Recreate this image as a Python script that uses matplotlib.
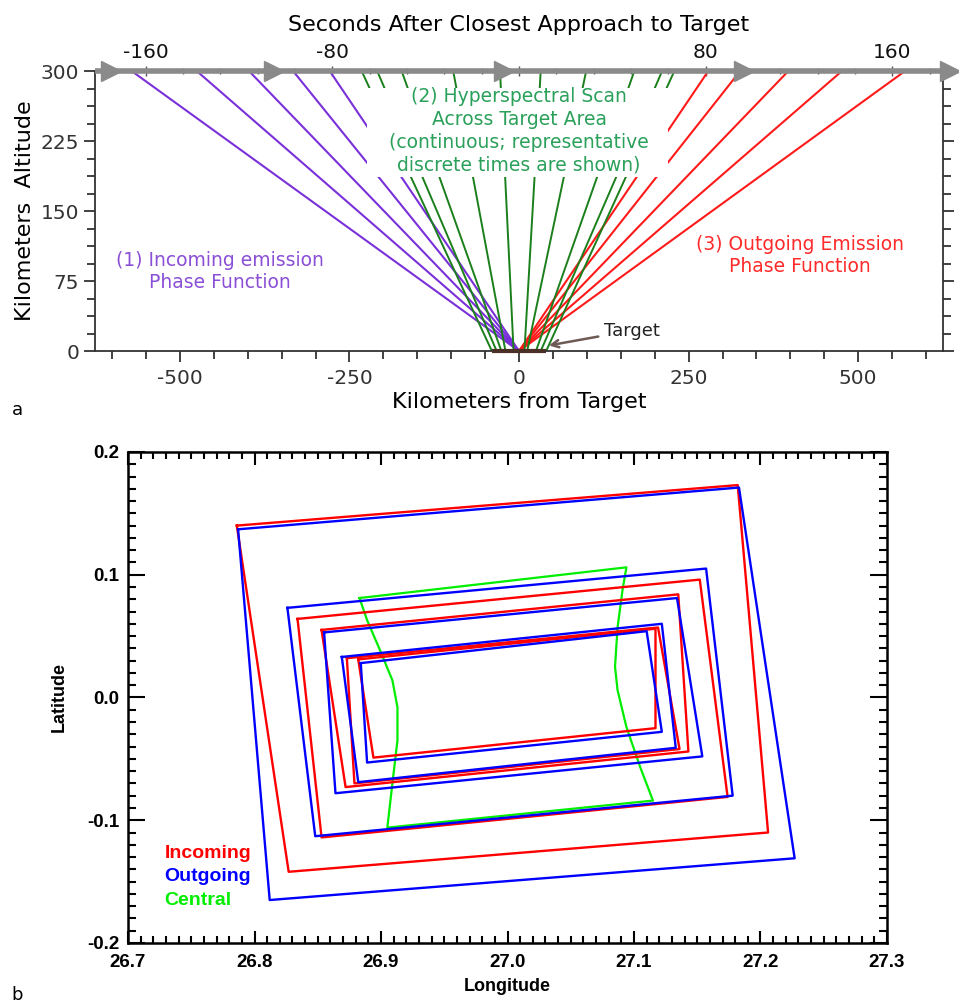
import numpy as np
import matplotlib.pyplot as plt
from matplotlib.patches import Rectangle
from matplotlib.ticker import MultipleLocator

plt.rcParams['axes.unicode_minus'] = False

# ---- panel a : viewing geometry (km) ----
ALT = 300
incoming_top_km = [-571, -475, -398, -333, -279]
outgoing_top_km = [279, 326, 397, 476, 569]
scan_top_km = [-232, -209, -173, -97, -28, 32, 99, 170, 211, 229]
scan_ground_km = [-40, -33, -26, -20, -8, 8, 12, 25, 32, 40]
target_km = [-40, 40]
arrow_head_km = [-601, -361, -22, 331, 636]
km_per_sec = 3.44
sec_ticks = [-160, -80, 0, 80, 160]
sec_labels = ['-160', '-80', '', '80', '160']
km_ticks = [-500, -250, 0, 250, 500]
alt_ticks = [0, 75, 150, 225, 300]

# ---- panel b : footprints (lon, lat corners TL, TR, BR, BL) ----
incoming_quads = [
    [(26.786, 0.140), (27.182, 0.173), (27.206, -0.110), (26.827, -0.142)],
    [(26.834, 0.064), (27.152, 0.096), (27.174, -0.081), (26.853, -0.114)],
    [(26.853, 0.055), (27.135, 0.084), (27.143, -0.044), (26.872, -0.073)],
    [(26.873, 0.032), (27.119, 0.057), (27.136, -0.042), (26.879, -0.070)],
    [(26.882, 0.031), (27.117, 0.056), (27.117, -0.025), (26.894, -0.049)],
]
outgoing_quads = [
    [(26.787, 0.137), (27.183, 0.171), (27.227, -0.131), (26.812, -0.165)],
    [(26.826, 0.073), (27.157, 0.105), (27.178, -0.080), (26.848, -0.113)],
    [(26.855, 0.053), (27.134, 0.081), (27.154, -0.048), (26.864, -0.078)],
    [(26.869, 0.033), (27.122, 0.060), (27.133, -0.041), (26.882, -0.069)],
    [(26.884, 0.028), (27.110, 0.054), (27.122, -0.028), (26.889, -0.053)],
]
central_left = [(26.883, 0.081), (26.889, 0.063), (26.899, 0.039), (26.909, 0.014),
                (26.913, -0.008), (26.913, -0.035), (26.909, -0.070), (26.905, -0.106)]
central_right = [(27.094, 0.106), (27.091, 0.088), (27.087, 0.057), (27.085, 0.025),
                 (27.087, 0.006), (27.094, -0.024), (27.105, -0.057), (27.115, -0.084)]

purple = '#7a30d9'
purple_txt = '#8a4fd6'
red_a = '#ff1a1a'
green_line = '#1b7f1b'
green_txt = '#2aa05a'
arrow_gray = '#8a8a8a'

fig = plt.figure(figsize=(9.59, 10.05), dpi=100)

# ================= panel a =================
ax = fig.add_axes([0.0991, 0.6507, 0.8842, 0.2786])
ax.set_xlim(-625, 625)
ax.set_ylim(0, ALT)

for xt in incoming_top_km:
    ax.plot([0, xt], [0, ALT], color=purple, lw=1.5, zorder=2)
for xt in outgoing_top_km:
    ax.plot([0, xt], [0, ALT], color=red_a, lw=1.5, zorder=2)
for xb, xt in zip(scan_ground_km, scan_top_km):
    ax.plot([xb, xt], [0, ALT], color=green_line, lw=1.4, zorder=2)

# white box behind the scan label
scan_box = Rectangle((-224, 186), 444, 96, facecolor='white', edgecolor='none', zorder=3)
ax.add_patch(scan_box)
ax.text(0, 236, '(2) Hyperspectral Scan\nAcross Target Area\n(continuous; representative\ndiscrete times are shown)',
        ha='center', va='center', color=green_txt, fontsize=13.5, linespacing=1.25, zorder=4)
ax.text(-441, 85, '(1) Incoming emission\nPhase Function', ha='center', va='center',
        color=purple_txt, fontsize=13.5, linespacing=1.2)
ax.text(414, 102, '(3) Outgoing Emission\nPhase Function', ha='center', va='center',
        color='#ff2a2a', fontsize=13.5, linespacing=1.2)

# target on the ground
ax.plot(target_km, [0, 0], color='#4b3028', lw=3, solid_capstyle='butt', clip_on=False, zorder=5)
ax.annotate('Target', xy=(44, 6), xytext=(125, 22), fontsize=13, color='#222222',
            ha='left', va='center',
            arrowprops=dict(arrowstyle='->', color='#6e5a55', lw=1.8, shrinkA=2, shrinkB=0))

# spacecraft track arrow along the top
ax.plot([-625, 640], [ALT, ALT], color=arrow_gray, lw=4, clip_on=False, zorder=6,
        solid_capstyle='butt')
ax.plot(arrow_head_km, [ALT] * len(arrow_head_km), linestyle='none', marker='>',
        markersize=15, color=arrow_gray, clip_on=False, zorder=7)

ax.spines['top'].set_visible(False)
for s in ['left', 'right', 'bottom']:
    ax.spines[s].set_color('#333333')
    ax.spines[s].set_linewidth(1.3)
ax.set_xticks(km_ticks)
ax.set_yticks(alt_ticks)
ax.xaxis.set_minor_locator(MultipleLocator(50))
ax.yaxis.set_minor_locator(MultipleLocator(18.75))
ax.tick_params(which='both', direction='out', colors='#333333', width=1.3, labelsize=14.5,
               top=False, right=True, labelright=False)
ax.tick_params(which='major', length=8)
ax.tick_params(which='minor', length=6)
ax.tick_params(axis='x', pad=5)
ax.set_xlabel('Kilometers from Target', fontsize=16, labelpad=3)
ax.set_ylabel('Kilometers  Altitude', fontsize=16, labelpad=4)

sec = ax.secondary_xaxis('top', functions=(lambda x: x / km_per_sec, lambda s: s * km_per_sec))
sec.set_xticks(sec_ticks)
sec.set_xticklabels(sec_labels)
sec.xaxis.set_minor_locator(MultipleLocator(16))
sec.spines['top'].set_visible(False)
sec.tick_params(which='both', direction='inout', colors='#555555', labelcolor='#111111',
                width=1.0, labelsize=14.5, pad=3)
sec.tick_params(which='major', length=7)
sec.tick_params(which='minor', length=4)
sec.set_xlabel('Seconds After Closest Approach to Target', fontsize=16, labelpad=9)

fig.text(0.012, 0.592, 'a', fontsize=13, va='center')

# ================= panel b =================
bx = fig.add_axes([0.1335, 0.0617, 0.7914, 0.4886])
bx.set_xlim(26.7, 27.3)
bx.set_ylim(-0.2, 0.2)

cx = [p[0] for p in central_left] + [p[0] for p in central_right[::-1]] + [central_left[0][0]]
cy = [p[1] for p in central_left] + [p[1] for p in central_right[::-1]] + [central_left[0][1]]
bx.plot(cx, cy, color='#00ee00', lw=1.6, zorder=2)
for q in incoming_quads:
    bx.plot([p[0] for p in q] + [q[0][0]], [p[1] for p in q] + [q[0][1]],
            color='#ff0000', lw=1.7, zorder=3)
for q in outgoing_quads:
    bx.plot([p[0] for p in q] + [q[0][0]], [p[1] for p in q] + [q[0][1]],
            color='#0000ff', lw=1.7, zorder=4)

bfont = dict(family='Liberation Sans', weight='bold')
bx.text(26.729, -0.127, 'Incoming', color='#ff0000', fontsize=14, va='center', **bfont)
bx.text(26.729, -0.146, 'Outgoing', color='#0000ff', fontsize=14, va='center', **bfont)
bx.text(26.729, -0.165, 'Central', color='#00ee00', fontsize=14, va='center', **bfont)

bx.set_xticks([26.7, 26.8, 26.9, 27.0, 27.1, 27.2, 27.3])
bx.set_yticks([-0.2, -0.1, 0.0, 0.1, 0.2])
bx.set_xticklabels(['26.7', '26.8', '26.9', '27.0', '27.1', '27.2', '27.3'])
bx.set_yticklabels(['-0.2', '-0.1', '0.0', '0.1', '0.2'])
bx.xaxis.set_minor_locator(MultipleLocator(0.01))
bx.yaxis.set_minor_locator(MultipleLocator(0.01))
for s in bx.spines.values():
    s.set_linewidth(1.8)
bx.tick_params(which='both', direction='in', top=True, right=True, width=1.5)
bx.tick_params(axis='x', which='major', length=9)
bx.tick_params(axis='x', which='minor', length=5)
bx.tick_params(axis='y', which='major', length=12)
bx.tick_params(axis='y', which='minor', length=6)
for lab in bx.get_xticklabels() + bx.get_yticklabels():
    lab.set_fontproperties('Liberation Sans')
    lab.set_fontweight('bold')
    lab.set_fontsize(13.5)
bx.tick_params(axis='x', pad=8)
bx.tick_params(axis='y', pad=6)
bx.set_xlabel('Longitude', fontsize=13, labelpad=5, **bfont)
bx.set_ylabel('Latitude', fontsize=13, labelpad=14, **bfont)

fig.text(0.012, 0.01, 'b', fontsize=13, va='center')

fig.savefig('out.png', dpi=100)
